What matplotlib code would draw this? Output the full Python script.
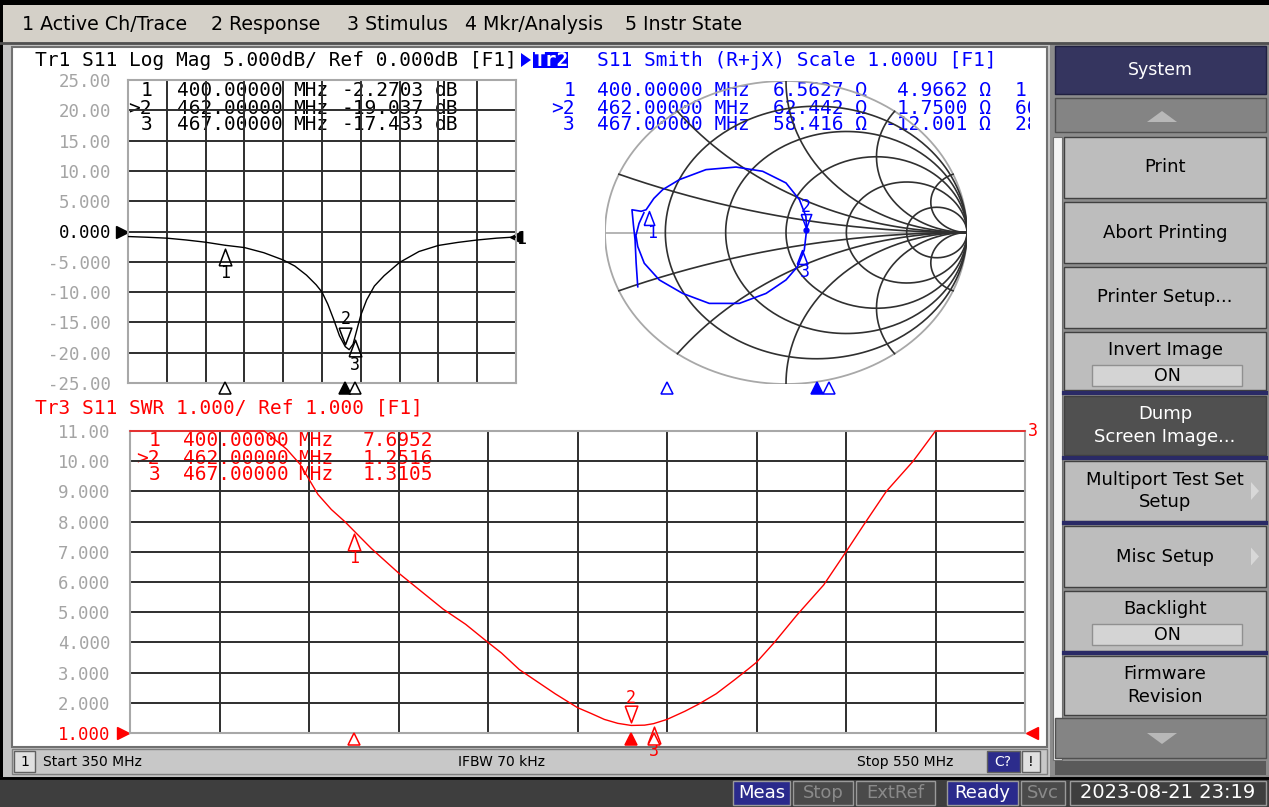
import numpy as np
import matplotlib
matplotlib.use("Agg")
import matplotlib.pyplot as plt
from matplotlib.patches import Rectangle, Polygon
from matplotlib.transforms import offset_copy, Bbox, TransformedBbox

W, H = 1269, 807
MONO = "DejaVu Sans Mono"
SANS = "DejaVu Sans"

# ---- values ----
# Tr1: S11 log magnitude, dB
freq_db = [350, 360, 370, 380, 390, 400, 410, 420, 430, 436, 442, 447, 450, 453, 456,
           459, 462, 464, 466, 467, 468, 470, 473, 477, 482, 490, 500, 510, 520, 530,
           540, 550]
s11_db = [-0.83, -0.95, -1.1, -1.4, -1.77, -2.27, -2.65, -3.5, -4.7, -5.7, -7.2, -8.8,
          -10.0, -12.0, -14.5, -17.2, -19.0, -19.5, -18.6, -17.4, -16.2, -13.8, -11.3,
          -9.0, -7.3, -5.1, -3.3, -2.3, -1.8, -1.4, -1.1, -0.9]

# Tr3: SWR (the display clips at 11)
freq_swr = [350, 360, 370, 380, 385, 388, 390, 392, 395, 398, 400, 404, 410, 415, 420,
            425, 430, 433, 437, 441, 445, 450, 453, 456, 459, 462, 465, 467, 470, 474,
            477, 481, 485, 488, 490, 494, 499, 505, 510, 514, 519, 525, 530, 540, 550]
swr = [11, 11, 11, 11, 10.4, 9.9, 9.4, 8.9, 8.4, 8.0, 7.7, 7.1, 6.3, 5.7, 5.1,
       4.6, 4.0, 3.65, 3.1, 2.7, 2.3, 1.84, 1.65, 1.45, 1.32, 1.25, 1.26, 1.31, 1.45, 1.72,
       1.95, 2.3, 2.75, 3.1, 3.34, 4.0, 4.9, 5.9, 7.0, 7.9, 9.0, 10.0, 11.0, 11.0, 11.0]

# Tr2: Smith trace, reflection coefficient (re, im)
smith_re = [-0.819, -0.828, -0.834, -0.843, -0.851, -0.80, -0.773, -0.73, -0.681, -0.589,
            -0.442, -0.276, -0.129, 0.0, 0.074, 0.110, 0.114, 0.101, 0.064, 0.0, -0.110,
            -0.258, -0.424, -0.571, -0.700, -0.783, -0.819, -0.829, -0.812, -0.785]
smith_im = [-0.358, -0.2, -0.048, 0.05, 0.15, 0.14, 0.15, 0.225, 0.283, 0.349,
            0.415, 0.432, 0.404, 0.327, 0.217, 0.106, 0.018, -0.115, -0.225, -0.313, -0.402,
            -0.468, -0.468, -0.402, -0.313, -0.203, -0.093, -0.02, 0.06, 0.13]

mk_id = ["1", ">2", "3"]
mk_freq = [400, 462, 467]
mk_freq_txt = ["400.00000", "462.00000", "467.00000"]
mk_db = [-2.2703, -19.037, -17.433]
mk_swr = [7.6952, 1.2516, 1.3105]
mk_r = [6.5627, 62.442, 58.416]
mk_x = [4.9662, 1.7500, -12.001]
mk_db_txt = ["-2.2703", "-19.037", "-17.433"]
mk_r_txt = ["6.5627", "62.442", "58.416"]
mk_x_txt = ["4.9662", "1.7500", "-12.001"]
mk_lc = ["1.9760 nH", "602.86 pH", "28.398 pF"]

menu_items = ["1 Active Ch/Trace", "2 Response", "3 Stimulus", "4 Mkr/Analysis", "5 Instr State"]
menu_x = [22, 211, 347, 465, 625]

softkeys = [("Print", 137, 198), ("Abort Printing", 202, 263), ("Printer Setup...", 267, 328),
            ("Invert Image", 332, 390), ("Dump\nScreen Image...", 396, 455),
            ("Multiport Test Set\nSetup", 461, 521), ("Misc Setup", 526, 587),
            ("Backlight", 591, 651), ("Firmware\nRevision", 656, 715)]

fig = plt.figure(figsize=(W / 100, H / 100), dpi=100)
bg = fig.add_axes([0, 0, 1, 1])
bg.set_xlim(0, W)
bg.set_ylim(H, 0)
bg.axis("off")


def box(x0, y0, x1, y1, fc, ec="none", lw=1.0, z=1):
    bg.add_patch(Rectangle((x0, y0), x1 - x0, y1 - y0, fc=fc, ec=ec, lw=lw, zorder=z))


def txt(x, y, s, size=12, color="black", ha="left", fam=SANS, z=3, **kw):
    return bg.text(x, y, s, fontsize=size, color=color, ha=ha, va="center",
                   family=fam, zorder=z, **kw)


def px_axes(x0, y0, x1, y1):
    return fig.add_axes([x0 / W, 1 - y1 / H, (x1 - x0) / W, (y1 - y0) / H])


# ---- frame ----
box(0, 0, W, H, "#b8b8b8", z=0)
box(0, 0, W, 5, "black")
box(0, 5, W, 42, "#d4d0c8")
box(0, 5, 3, 777, "black")
bg.plot([0, W], [43, 43], color="#505050", lw=2, zorder=2)
for s, x in zip(menu_items, menu_x):
    txt(x, 25, s, size=13.7)
box(3, 44, 1050, 777, "#c4c4c4")
box(12, 47, 1047, 747, "white", ec="#707070", lw=1.5)

# right softkey panel
box(1050, 44, W, 777, "#8c8c8c")
box(1053, 137, 1062, 760, "#f4f4f4", ec="#707070", lw=0.8)
box(1055, 46, 1266, 94, "#35355f", ec="#202040", lw=1)
txt(1160, 70, "System", size=12.5, color="white", ha="center")
box(1055, 98, 1266, 132, "#848484", ec="#505050")
bg.add_patch(Polygon([[1147, 122], [1177, 122], [1162, 111]], fc="#b8b8b8", ec="none", zorder=3))
for lab, y0, y1 in softkeys:
    dark = lab.startswith("Dump")
    box(1064, y0, 1266, y1, "#505050" if dark else "#bdbdbd", ec="#404040", lw=1)
    if lab in ("Invert Image", "Backlight"):
        txt(1165, y0 + 18, lab, size=13, ha="center")
        box(1092, y0 + 33, 1242, y0 + 54, "#d4d4d4", ec="#909090")
        txt(1167, y0 + 44, "ON", size=12.5, ha="center")
    else:
        txt(1165, (y0 + y1) / 2, lab, size=13, ha="center", ma="center",
            color="white" if dark else "black", linespacing=1.35)
    if lab in ("Multiport Test Set\nSetup", "Misc Setup"):
        bg.add_patch(Polygon([[1251, (y0 + y1) / 2 - 9], [1251, (y0 + y1) / 2 + 9],
                              [1259, (y0 + y1) / 2]], fc="#d8d8d8", ec="none", zorder=3))
for y in [393, 458, 523, 653]:
    bg.plot([1064, 1266], [y, y], color="#2a2a66", lw=3, zorder=3)
box(1055, 718, 1266, 758, "#848484", ec="#505050")
bg.add_patch(Polygon([[1147, 733], [1177, 733], [1162, 744]], fc="#b8b8b8", ec="none", zorder=3))
box(1055, 761, 1266, 775, "#5a5a5a")

# channel status bar
box(12, 749, 1047, 774, "#c8c8c8", ec="#808080")
box(14, 751, 35, 772, "#e0e0e0", ec="#606060")
txt(24.5, 762, "1", size=10, ha="center")
txt(43, 762, "Start 350 MHz", size=10)
txt(501, 762, "IFBW 70 kHz", size=10, ha="center")
txt(953, 762, "Stop 550 MHz", size=10, ha="right")
box(987, 751, 1020, 772, "#2c2c8c", ec="#606060")
txt(1003, 762, "C?", size=10, color="white", ha="center")
box(1022, 751, 1040, 772, "#e0e0e0", ec="#606060")
txt(1031, 762, "!", size=10, ha="center")

# instrument status bar
box(0, 777, W, H, "#3e3e3e")
bg.plot([0, W], [777.5, 777.5], color="black", lw=2, zorder=2)
for lab, x0, x1, fc, tc in [("Meas", 733, 790, "#2a2a8c", "white"),
                            ("Stop", 793, 853, "#4a4a4a", "#8a8a8a"),
                            ("ExtRef", 856, 935, "#4a4a4a", "#8a8a8a"),
                            ("Ready", 947, 1018, "#2a2a8c", "white"),
                            ("Svc", 1021, 1065, "#4a4a4a", "#8a8a8a"),
                            ("2023-08-21 23:19", 1070, 1266, "#3e3e3e", "white")]:
    box(x0, 781, x1, 805, fc, ec="#9a9a9a", lw=1)
    txt((x0 + x1) / 2, 793, lab, size=14 if len(lab) > 8 else 13, color=tc, ha="center")

# ---- Tr1 : Log Mag ----
ax1 = px_axes(128, 80, 516, 383)
ax1.set_facecolor("none")
ax1.set_xlim(350, 550)
ax1.set_ylim(-25, 25)
ax1.set_xticks(np.arange(350, 551, 20))
ax1.set_xticklabels([])
ax1.set_yticks(np.arange(25, -26, -5))
ax1.set_yticklabels(["25.00", "20.00", "15.00", "10.00", "5.000", "0.000", "-5.000",
                     "-10.00", "-15.00", "-20.00", "-25.00"], family=MONO, fontsize=12.5)
ax1.tick_params(length=0, pad=12, labelcolor="#a4a4a4")
for lab in ax1.get_yticklabels():
    if lab.get_text() == "0.000":
        lab.set_color("black")
ax1.grid(True, color="#2e2e2e", lw=1.4)
for sp in ax1.spines.values():
    sp.set_color("#a8a8a8")
    sp.set_linewidth(1.5)
ax1.plot(freq_db, s11_db, color="black", lw=1.0, zorder=4)

# ---- Tr3 : SWR ----
ax3 = px_axes(130, 431, 1025, 733)
ax3.set_facecolor("none")
ax3.set_xlim(350, 550)
ax3.set_ylim(1, 11)
ax3.set_xticks(np.arange(350, 551, 20))
ax3.set_xticklabels([])
ax3.set_yticks(np.arange(1, 12))
ax3.set_yticklabels(["1.000", "2.000", "3.000", "4.000", "5.000", "6.000", "7.000",
                     "8.000", "9.000", "10.00", "11.00"], family=MONO, fontsize=12.5)
ax3.tick_params(length=0, pad=14, labelcolor="#a4a4a4")
ax3.get_yticklabels()[0].set_color("red")
ax3.grid(True, color="#2e2e2e", lw=1.4)
for sp in ax3.spines.values():
    sp.set_color("#a8a8a8")
    sp.set_linewidth(1.5)
ax3.plot(freq_swr, np.clip(swr, 1, 11), color="red", lw=1.0, zorder=4, clip_on=False)

# ---- Tr2 : Smith chart ----
axs = px_axes(605, 81, 967, 384)
axs.set_xlim(-1, 1)
axs.set_ylim(-1, 1)
axs.axis("off")
t = np.linspace(0, 2 * np.pi, 500)
axs.plot(np.cos(t), np.sin(t), color="#a8a8a8", lw=1.3)
axs.plot([-1, 1], [0, 0], color="#a8a8a8", lw=1.2)
xs = np.concatenate([-np.geomspace(1e3, 1e-3, 400), np.geomspace(1e-3, 1e3, 400)])
for r in [0.2, 0.5, 1, 2, 5]:
    g = (r + 1j * xs - 1) / (r + 1j * xs + 1)
    axs.plot(g.real, g.imag, color="#303030", lw=1.2)
rs = np.concatenate([[0], np.geomspace(1e-3, 1e3, 400)])
for x in [0.2, 0.5, 1, 2, 5, -0.2, -0.5, -1, -2, -5]:
    g = (rs + 1j * x - 1) / (rs + 1j * x + 1)
    axs.plot(g.real, g.imag, color="#303030", lw=1.2)
axs.plot(smith_re, smith_im, color="blue", lw=1.2, zorder=5)

UP = [(-0.38, -0.5), (0.38, -0.5), (0, 0.5), (-0.38, -0.5)]
DOWN = [(-0.38, 0.5), (0.38, 0.5), (0, -0.5), (-0.38, 0.5)]


def mark(ax, x, y, label, color, up=True, ms=12, gap=3, ldx=0):
    h = ms * 100 / 72
    dy = -(gap + h / 2) if up else (gap + h / 2)
    tr = offset_copy(ax.transData, fig=fig, x=0, y=dy, units="dots")
    ax.plot([x], [y], marker=UP if up else DOWN, ms=ms, mfc="none",
            mec=color, mew=1.1, transform=tr, clip_on=False, zorder=6)
    ly = dy + (-(h / 2 + 8) if up else (h / 2 + 8))
    tl = offset_copy(ax.transData, fig=fig, x=ldx, y=ly, units="dots")
    ax.text(x, y, label, transform=tl, ha="center", va="center", color=color,
            fontsize=12, family=MONO, clip_on=False, zorder=6)


for i, n in enumerate(["1", "2", "3"]):
    up = n != "2"
    mark(ax1, mk_freq[i], mk_db[i], n, "black", up=up)
    mark(ax3, mk_freq[i], mk_swr[i], n, "red", up=up)
    z = (mk_r[i] + 1j * mk_x[i]) / 50.0
    g = (z - 1) / (z + 1)
    mark(axs, g.real, g.imag, n, "blue", up=up, ms=10, gap=2, ldx=3 if up else 0)
    if n == "2":
        axs.plot([g.real], [g.imag], "o", color="blue", ms=3.5, zorder=6)


def stim(ax, color, yfrac, tr=None):
    tr = tr if tr is not None else ax.get_xaxis_transform()
    for i, f in enumerate(mk_freq):
        ax.plot([f], [yfrac], marker="^", ms=9, mfc=color if i == 1 else "white",
                mec=color, mew=1.1, transform=tr, clip_on=False, zorder=6)


stim(ax1, "black", -5 / 303)
stim(ax3, "red", -6 / 302)
axst = px_axes(546, 380, 1030, 396)
axst.set_xlim(350, 550)
axst.set_ylim(0, 1)
axst.axis("off")
stim(axst, "blue", 0.5, tr=axst.transData)

# reference-level and trace-end arrows
ax1.plot([350], [0], marker=">", ms=8, color="black", clip_on=False,
         transform=offset_copy(ax1.transData, fig=fig, x=-6, y=0, units="dots"))
ax1.plot([550], [s11_db[-1]], marker="<", ms=8, color="black", clip_on=False,
         transform=offset_copy(ax1.transData, fig=fig, x=0, y=0, units="dots"))
ax1.text(550, s11_db[-1], "1", fontsize=12, family=MONO, va="center", clip_on=False,
         transform=offset_copy(ax1.transData, fig=fig, x=0, y=-2, units="dots"))
ax3.plot([350], [1], marker=">", ms=9, color="red", clip_on=False,
         transform=offset_copy(ax3.transData, fig=fig, x=-7, y=0, units="dots"))
ax3.plot([550], [1], marker="<", ms=9, color="red", clip_on=False,
         transform=offset_copy(ax3.transData, fig=fig, x=7, y=0, units="dots"))
ax3.text(550, swr[-1], "3", fontsize=12, family=MONO, va="center", color="red",
         clip_on=False, transform=offset_copy(ax3.transData, fig=fig, x=3, y=0, units="dots"))

# ---- headers and marker tables ----
FS = 14
txt(35, 60, "Tr1 S11 Log Mag 5.000dB/ Ref 0.000dB [F1]", size=FS, fam=MONO)
txt(35, 408, "Tr3 S11 SWR 1.000/ Ref 1.000 [F1]", size=FS, fam=MONO, color="red")
bg.add_patch(Polygon([[521, 53], [521, 67], [531, 60]], fc="blue", ec="none", zorder=3))
box(533, 52, 568, 68, "blue")
txt(550.5, 60, "Tr2", size=FS, fam=MONO, color="white", ha="center", weight="bold")
txt(597, 60, "S11 Smith (R+jX) Scale 1.000U [F1]", size=FS, fam=MONO, color="blue")

clip = TransformedBbox(Bbox([[0, 0], [1030, H]]), bg.transData)
for i in range(3):
    y = 91 + 17 * i
    txt(152, y, mk_id[i], size=FS, fam=MONO, ha="right")
    txt(177, y, mk_freq_txt[i], size=FS, fam=MONO)
    txt(293, y, "MHz", size=FS, fam=MONO)
    txt(342, y, mk_db_txt[i], size=FS, fam=MONO)
    txt(435, y, "dB", size=FS, fam=MONO)

    y3 = 441 + 17 * i
    txt(160, y3, mk_id[i], size=FS, fam=MONO, ha="right", color="red")
    txt(183, y3, mk_freq_txt[i], size=FS, fam=MONO, color="red")
    txt(298, y3, "MHz", size=FS, fam=MONO, color="red")
    txt(433, y3, f"{mk_swr[i]:.4f}", size=FS, fam=MONO, color="red", ha="right")

    txt(575, y, mk_id[i], size=FS, fam=MONO, ha="right", color="blue")
    txt(597, y, mk_freq_txt[i] + " MHz", size=FS, fam=MONO, color="blue")
    txt(867, y, mk_r_txt[i] + " \u03a9", size=FS, fam=MONO, color="blue", ha="right")
    txt(991, y, mk_x_txt[i] + " \u03a9", size=FS, fam=MONO, color="blue", ha="right")
    tt = txt(1015, y, mk_lc[i], size=FS, fam=MONO, color="blue")
    tt.set_clip_box(clip)
    tt.set_clip_on(True)

fig.savefig("out.png", dpi=100)
